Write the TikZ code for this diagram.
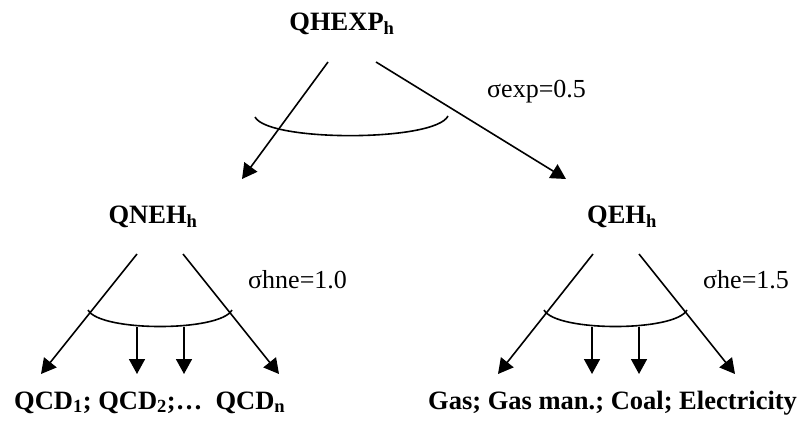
\documentclass[tikz,border=0pt]{standalone}
\usepackage{fontspec}
\setmainfont{Liberation Serif}
\usetikzlibrary{arrows.meta}
\begin{document}
\begin{tikzpicture}[x=1pt,y=-1pt,
  lbl/.style={font=\fontsize{26.5}{30}\selectfont\bfseries, inner sep=0pt},
  sig/.style={font=\fontsize{26}{30}\selectfont, inner sep=0pt, anchor=base west},
  arr/.style={line width=1.6pt, -{Triangle[length=15pt,width=16pt]}},
  ln/.style={line width=1.6pt}]
\useasboundingbox (0,0) rectangle (799,421);
% nodes
\node[lbl, anchor=base] (top) at (342,30) {QHEXP\textsubscript{h}};
\node[lbl, anchor=base] (qneh) at (153,223) {QNEH\textsubscript{h}};
\node[lbl, anchor=base] (qeh) at (622,223) {QEH\textsubscript{h}};
\node[lbl, anchor=base west] (qcd) at (14,409) {QCD\textsubscript{1}; QCD\textsubscript{2};\dots\ \ QCD\textsubscript{n}};
\node[lbl, anchor=base west] (fuel) at (428,409) {Gas; Gas man.; Coal; Electricity};
\node[sig] (s1) at (487,97) {σexp=0.5};
\node[sig] (s2) at (248,288) {σhne=1.0};
\node[sig] (s3) at (703,288) {σhe=1.5};
% coordinates
\coordinate (t1) at (328,62);
\coordinate (t2) at (376,62);
\coordinate (e1) at (242,179);
\coordinate (e2) at (566,179);
\coordinate (a1) at (137,254);
\coordinate (a2) at (183,254);
\coordinate (b1) at (41,374);
\coordinate (b2) at (279,374);
\coordinate (v1s) at (137,327);
\coordinate (v2s) at (184,327);
\coordinate (v1e) at (137,374);
\coordinate (v2e) at (184,374);
\coordinate (c1) at (593,254);
\coordinate (c2) at (639,254);
\coordinate (d1) at (498,374);
\coordinate (d2) at (735,374);
\coordinate (w1s) at (592,327);
\coordinate (w2s) at (639,327);
\coordinate (w1e) at (592,374);
\coordinate (w2e) at (639,374);
% top
\draw[arr] (t1) -- (e1);
\draw[arr] (t2) -- (e2);
\draw[ln] (255,117) .. controls (268,142) and (435,142) .. (448,116);
% left subtree
\draw[arr] (a1) -- (b1);
\draw[arr] (a2) -- (b2);
\draw[ln] (88,310) .. controls (100,332) and (220,332) .. (232,310);
\draw[arr] (v1s) -- (v1e);
\draw[arr] (v2s) -- (v2e);
% right subtree
\draw[arr] (c1) -- (d1);
\draw[arr] (c2) -- (d2);
\draw[ln] (544,310) .. controls (556,332) and (675,332) .. (687,310);
\draw[arr] (w1s) -- (w1e);
\draw[arr] (w2s) -- (w2e);
\end{tikzpicture}
\end{document}
